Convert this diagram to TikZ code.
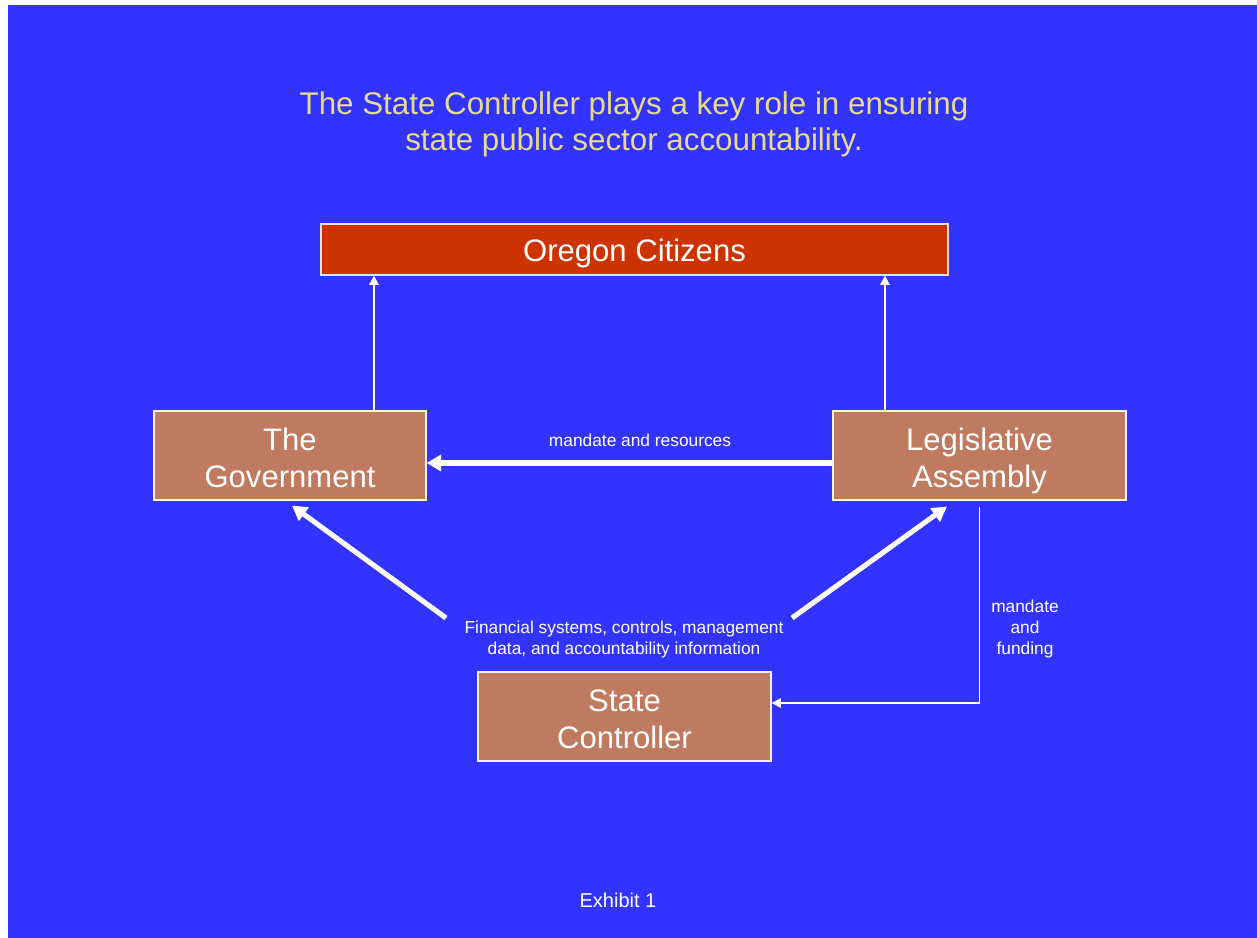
\documentclass[tikz,border=0pt]{standalone}
\usepackage{fontspec}
\setmainfont{Liberation Sans}
\usepackage{xcolor}
\usepackage{tikz}
\usetikzlibrary{arrows.meta,positioning}

\definecolor{slideblue}{RGB}{51,51,255}
\definecolor{citizenred}{RGB}{204,51,0}
\definecolor{boxbrown}{RGB}{192,122,96}
\definecolor{titlekhaki}{RGB}{228,220,140}

\begin{document}
\begin{tikzpicture}[x=0.75pt,y=-0.75pt,
    box/.style={draw=white!90!boxbrown, line width=0.8pt, fill=boxbrown, text=white, align=center, inner sep=0pt,
      text height=47.8pt, text depth=0pt, font=\fontsize{23.3}{27.7}\selectfont},
    thinarrow/.style={draw=white, line width=1.1pt, -{Triangle[length=7pt,width=7pt]}},
    thickarrow/.style={draw=white, line width=3.8pt, -{Triangle[length=11pt,width=12pt]}},
    smalltext/.style={text=white, align=center, font=\fontsize{13}{15.75}\selectfont}]
  \useasboundingbox (0,0) rectangle (1257,938);
  \fill[white] (0,0) rectangle (1257,938);
  \fill[slideblue] (8,5) rectangle (1257,938);
  % title
  \node[text=titlekhaki, align=center, font=\fontsize{23.5}{27}\selectfont] (title) at (634,124.5)
    {The State Controller plays a key role in ensuring\\state public sector accountability.};
  % boxes
  \node[box, fill=citizenred, draw=white!85!citizenred, text height=18.1pt, minimum width=470.25pt, minimum height=38.25pt] (citizens) at (634.5,249.5) {Oregon Citizens};
  \node[box, minimum width=204pt, minimum height=66.75pt] (gov) at (290,455.5) {The\\Government};
  \node[box, minimum width=219.75pt, minimum height=66.75pt] (leg) at (979.5,455.5) {Legislative\\Assembly};
  \node[box, minimum width=219.75pt, minimum height=66.75pt] (ctrl) at (624.5,716.5) {State\\Controller};
  % accountability upwards
  \draw[thinarrow] ([xshift=63pt]gov.north) -- ([xshift=63pt]gov.north |- citizens.south);
  \draw[thinarrow] ([xshift=-70.9pt]leg.north) -- ([xshift=-70.9pt]leg.north |- citizens.south);
  % mandate and resources
  \draw[thickarrow] ([yshift=-5.6pt]leg.west) -- ([yshift=-5.6pt]gov.east);
  \node[smalltext] (mandres) at (640,440) {mandate and resources};
  % financial information
  \node[smalltext] (fininfo) at (624,640) {Financial systems, controls, management\\data, and accountability information};
  \coordinate (finL) at (446,618);
  \coordinate (finR) at (792,618);
  \draw[thickarrow] (finL) -- ([xshift=1.5pt,yshift=-3.8pt]gov.south);
  \draw[thickarrow] (finR) -- ([xshift=-24.4pt,yshift=-4.5pt]leg.south);
  % mandate and funding
  \draw[thinarrow] ([yshift=-4.5pt]leg.south) |- ([yshift=10.1pt]ctrl.east);
  \node[smalltext] (mandfund) at (1025,629) {mandate\\and\\funding};
  % footer
  \node[text=white, font=\fontsize{15}{18}\selectfont] (exhibit) at (618,900) {Exhibit 1};
\end{tikzpicture}
\end{document}
